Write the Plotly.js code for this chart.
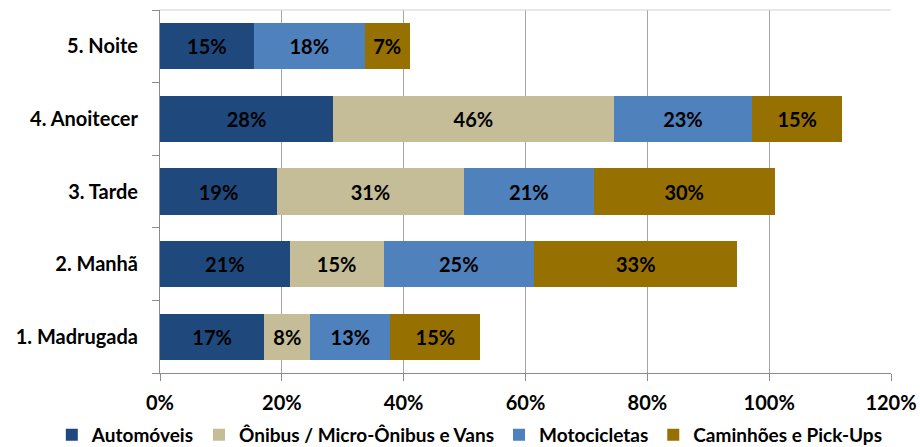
<!DOCTYPE html>
<html>
<head>
<meta charset="utf-8">
<script src="https://cdn.plot.ly/plotly-3.0.1.min.js"></script>
<style>html,body{margin:0;padding:0;background:#fff;}#chart{width:920px;height:447px;}</style>
</head>
<body>
<div id="chart"></div>
<script>
const categories = ["1. Madrugada", "2. Manhã", "3. Tarde", "4. Anoitecer", "5. Noite"];
const seriesNames = ["Automóveis", "Ônibus / Micro-Ônibus e Vans", "Motocicletas", "Caminhões e Pick-Ups"];
const automoveis = [17.1, 21.3, 19.2, 28.4, 15.4];
const onibus = [7.6, 15.4, 30.7, 46.1, null];
const motocicletas = [13.1, 24.7, 21.3, 22.7, 18.2];
const caminhoes = [14.8, 33.4, 29.7, 14.8, 7.4];
const xTickVals = [0, 20, 40, 60, 80, 100, 120];
const xTickText = ["0%", "20%", "40%", "60%", "80%", "100%", "120%"];
const colors = ["#1F497D", "#C4BD97", "#4F81BD", "#967000"];

const FONT = "Lato, 'Open Sans', sans-serif";
const allSeries = [automoveis, onibus, motocicletas, caminhoes];
const traces = allSeries.map((vals, i) => ({
  type: "bar",
  orientation: "h",
  name: seriesNames[i],
  y: categories,
  x: vals,
  marker: {color: colors[i], line: {width: 0}},
  text: vals.map(v => v == null ? "" : Math.round(v) + "%"),
  textposition: "inside",
  insidetextanchor: "middle",
  textangle: 0,
  constraintext: "none",
  textfont: {family: FONT, size: 20, color: "#000", weight: "bold"},
  hoverinfo: "skip"
}));

const layout = {
  width: 920, height: 447,
  margin: {l: 160, r: 29, t: 10, b: 74, autoexpand: false},
  barmode: "stack",
  bargap: 0.366,
  paper_bgcolor: "#fff",
  plot_bgcolor: "#fff",
  showlegend: true,
  legend: {
    orientation: "h", x: -0.148, xanchor: "left", y: -0.118, yanchor: "top",
    font: {family: FONT, size: 19, color: "#000", weight: "bold"},
    itemwidth: 30, tracegroupgap: 0, traceorder: "normal"
  },
  xaxis: {
    range: [0, 120],
    tickvals: xTickVals, ticktext: xTickText,
    showgrid: true, gridcolor: "#A6A6A6", gridwidth: 1,
    zeroline: false,
    showline: true, linecolor: "#8C8C8C", linewidth: 1,
    ticks: "outside", ticklen: 7, tickcolor: "#8C8C8C",
    tickfont: {family: FONT, size: 20, color: "#000", weight: "bold"},
    ticklabelstandoff: 5,
    fixedrange: true
  },
  yaxis: {
    type: "category",
    categoryorder: "array", categoryarray: categories,
    showgrid: false, zeroline: false,
    showline: true, linecolor: "#8C8C8C", linewidth: 1,
    ticks: "outside", ticklen: 7, tickcolor: "#8C8C8C",
    tickson: "boundaries",
    tickfont: {family: FONT, size: 20, color: "#000", weight: "bold"},
    ticklabelstandoff: 17,
    fixedrange: true
  },
  shapes: [{
    type: "line", xref: "paper", yref: "paper", x0: 0, x1: 1, y0: 1, y1: 1,
    line: {color: "#D0D0D0", width: 1}
  }]
};

Plotly.newPlot("chart", traces, layout, {displayModeBar: false, staticPlot: true});
</script>
</body>
</html>
